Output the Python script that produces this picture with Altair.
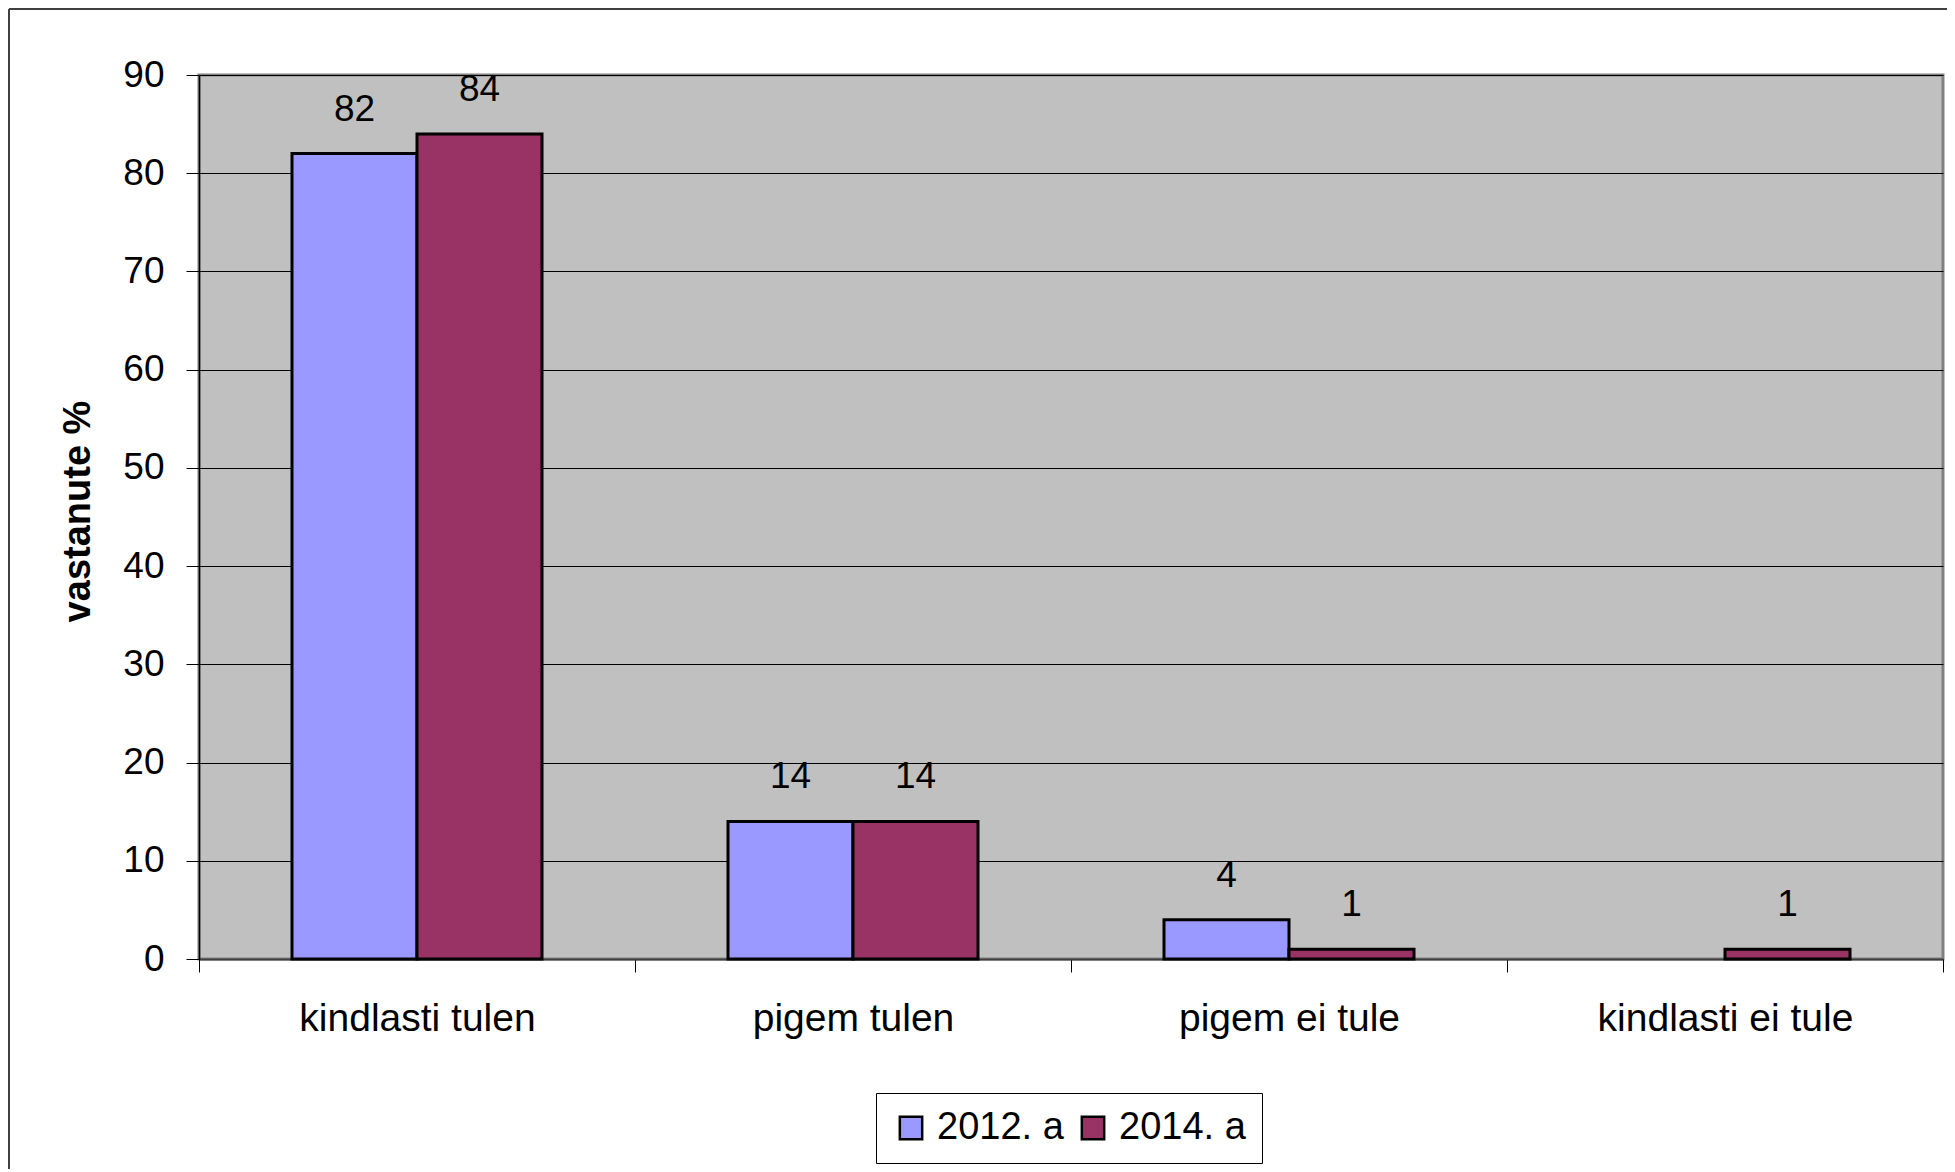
import altair as alt
import pandas as pd

categories = ["kindlasti tulen", "pigem tulen", "pigem ei tule", "kindlasti ei tule"]
years = ["2012. a", "2014. a"]
values_2012 = [82, 14, 4, None]
values_2014 = [84, 14, 1, 1]
colors = ["#9999FF", "#993366"]
y_ticks = [0, 10, 20, 30, 40, 50, 60, 70, 80, 90]

rows = []
for c, v12, v14 in zip(categories, values_2012, values_2014):
    if v12 is not None:
        rows.append({"kategooria": c, "aasta": years[0], "vaartus": v12})
    if v14 is not None:
        rows.append({"kategooria": c, "aasta": years[1], "vaartus": v14})
df = pd.DataFrame(rows)

FONT = "Liberation Sans"
W, H = 1744, 884

x_enc = alt.X(
    "kategooria:N",
    sort=categories,
    scale=alt.Scale(paddingInner=0, paddingOuter=0),
    axis=alt.Axis(
        title=None,
        labelAngle=0,
        labelFont=FONT,
        labelFontSize=39,
        labelColor="black",
        labelBaseline="alphabetic",
        labelPadding=58,
        labelLimit=0,
        tickBand="extent",
        tickSize=13,
        tickColor="black",
        tickWidth=1,
        domainColor="#404040",
        domainWidth=2,
        grid=False,
    ),
)
xo_scale = alt.Scale(domain=years, paddingInner=0, paddingOuter=0.744)
y_enc = alt.Y(
    "vaartus:Q",
    scale=alt.Scale(domain=[0, 90], nice=False),
    axis=alt.Axis(
        title="vastanute %",
        titleFont=FONT,
        titleFontSize=38,
        titleFontWeight="bold",
        titleColor="black",
        titleAngle=270,
        titleAlign="center",
        titleBaseline="middle",
        titleX=-121,
        titleY=436,
        values=y_ticks,
        labelFont=FONT,
        labelFontSize=37,
        labelColor="black",
        labelPadding=22,
        tickSize=13,
        tickColor="black",
        domainColor="black",
        domainWidth=1.5,
        grid=True,
        gridColor="#000000",
        gridWidth=1,
    ),
)

bars = alt.Chart(df).mark_bar(stroke="black", strokeWidth=3).encode(
    x=x_enc,
    xOffset=alt.XOffset("aasta:N", scale=xo_scale),
    y=y_enc,
    color=alt.Color(
        "aasta:N",
        scale=alt.Scale(domain=years, range=colors),
        legend=alt.Legend(
            title=None,
            orient="none",
            direction="horizontal",
            legendX=677,
            legendY=1018,
            symbolType="square",
            symbolSize=500,
            symbolStrokeColor="black",
            symbolStrokeWidth=2.5,
            symbolOpacity=1,
            labelFont=FONT,
            labelFontSize=38,
            labelColor="black",
            labelOffset=7,
            columnPadding=10,
            padding=16,
            strokeColor="black",
            fillColor="white",
        ),
    ),
)

labels = alt.Chart(df).mark_text(
    font=FONT, fontSize=37, color="black", baseline="alphabetic", align="center", dy=-33
).encode(
    x=alt.X("kategooria:N", sort=categories),
    xOffset=alt.XOffset("aasta:N"),
    y=alt.Y("vaartus:Q"),
    text=alt.Text("vaartus:Q"),
)

border_left = alt.Chart(df).mark_rule(color="#404040", strokeWidth=2).encode(
    x=alt.value(-190), y=alt.value(-66), y2=alt.value(H + 220)
)
border_top = alt.Chart(df).mark_rule(color="#404040", strokeWidth=2).encode(
    x=alt.value(-190), x2=alt.value(W + 10), y=alt.value(-66)
)

chart = (
    alt.layer(bars, labels, border_left, border_top)
    .properties(
        width=W,
        height=H,
        autosize=alt.AutoSizeParams(type="none"),
        padding={"left": 191, "top": 67, "right": 4, "bottom": 210},
        background="white",
    )
    .configure_view(fill="#C0C0C0", stroke="#808080", strokeWidth=3)
)

chart.save("out.html", embed_options={"renderer": "svg", "actions": False})
